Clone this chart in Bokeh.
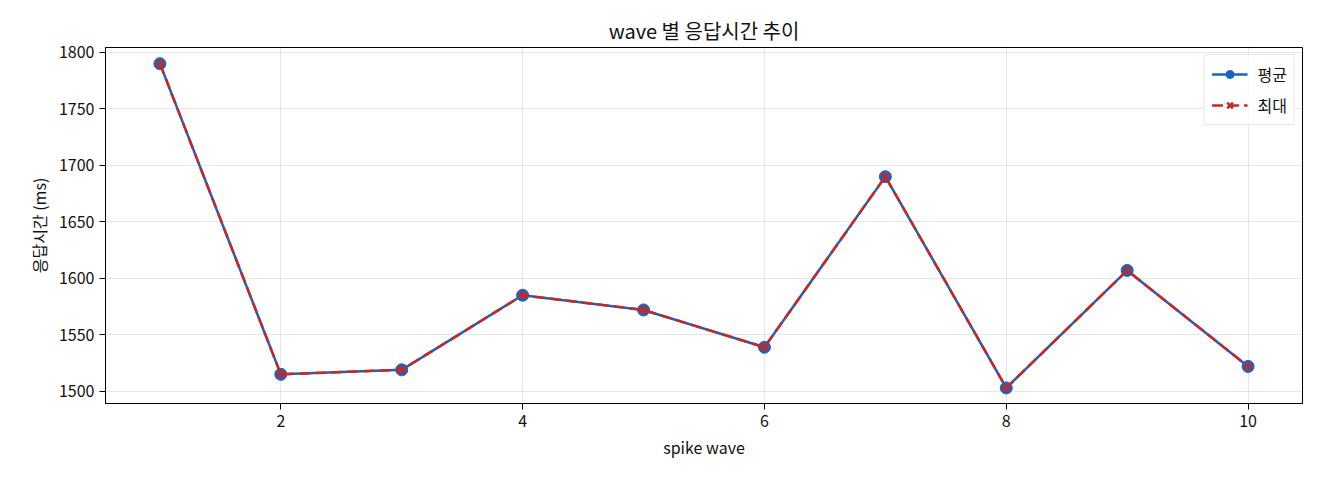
from bokeh.plotting import figure
from bokeh.embed import file_html
from bokeh.resources import INLINE
from bokeh.models import ColumnDataSource, Legend, LegendItem, Range1d

waves = [1, 2, 3, 4, 5, 6, 7, 8, 9, 10]
avg_ms = [1790, 1515, 1519, 1585, 1572, 1539, 1690, 1503, 1607, 1522]
max_ms = [1790, 1515, 1519, 1585, 1572, 1539, 1690, 1503, 1607, 1522]

FONT = "Noto Sans CJK KR"
BLUE = "#1565c0"
RED = "#c62828"

source = ColumnDataSource(dict(x=waves, avg=avg_ms, mx=max_ms))

p = figure(
    width=1312, height=472,
    title="wave 별 응답시간 추이",
    toolbar_location=None, tools="",
    output_backend="svg",
    x_range=Range1d(0.55, 10.45),
    y_range=Range1d(1489.2, 1804.3),
    min_border_left=105, min_border_right=10,
    min_border_top=47, min_border_bottom=69,
)

p.title.align = "center"
p.title.text_font = FONT
p.title.text_font_style = "normal"
p.title.text_font_size = "20px"
p.title.text_color = "#111111"
p.title.standoff = 5

l1 = p.line("x", "avg", source=source, line_color=BLUE, line_width=2.5)
s1 = p.scatter("x", "avg", source=source, size=12, fill_color=BLUE, line_color=BLUE)
l2 = p.line("x", "mx", source=source, line_color=RED, line_width=2.5, line_dash="11 5")
s2 = p.scatter("x", "mx", source=source, marker="x", size=11, line_color=RED, line_width=2.5)

legend = Legend(
    items=[LegendItem(label="평균", renderers=[l1, s1]),
           LegendItem(label="최대", renderers=[l2, s2])],
    location="top_right",
    label_text_font=FONT, label_text_font_size="16px", label_text_color="#111111",
    border_line_color="#d0d0d0", border_line_width=1,
    background_fill_alpha=0.8,
    glyph_width=36, glyph_height=20, label_height=20,
    label_standoff=10, spacing=7, padding=7, margin=7,
)
p.add_layout(legend)

p.xaxis.ticker = [2, 4, 6, 8, 10]
p.yaxis.ticker = [1500, 1550, 1600, 1650, 1700, 1750, 1800]
p.xaxis.axis_label = "spike wave"
p.yaxis.axis_label = "응답시간 (ms)"

for ax in (p.xaxis, p.yaxis):
    ax.axis_label_text_font = FONT
    ax.axis_label_text_font_style = "normal"
    ax.axis_label_text_font_size = "16px"
    ax.axis_label_text_color = "#111111"
    ax.major_label_text_font = FONT
    ax.major_label_text_font_size = "16px"
    ax.major_label_text_color = "#111111"
    ax.axis_line_color = "black"
    ax.major_tick_line_color = "black"
    ax.major_tick_out = 6
    ax.major_tick_in = 0
    ax.minor_tick_line_color = None

p.grid.grid_line_color = "#b0b0b0"
p.grid.grid_line_alpha = 0.3
p.outline_line_color = "black"
p.outline_line_alpha = 1

open("out.html", "w").write(file_html(p, INLINE))
